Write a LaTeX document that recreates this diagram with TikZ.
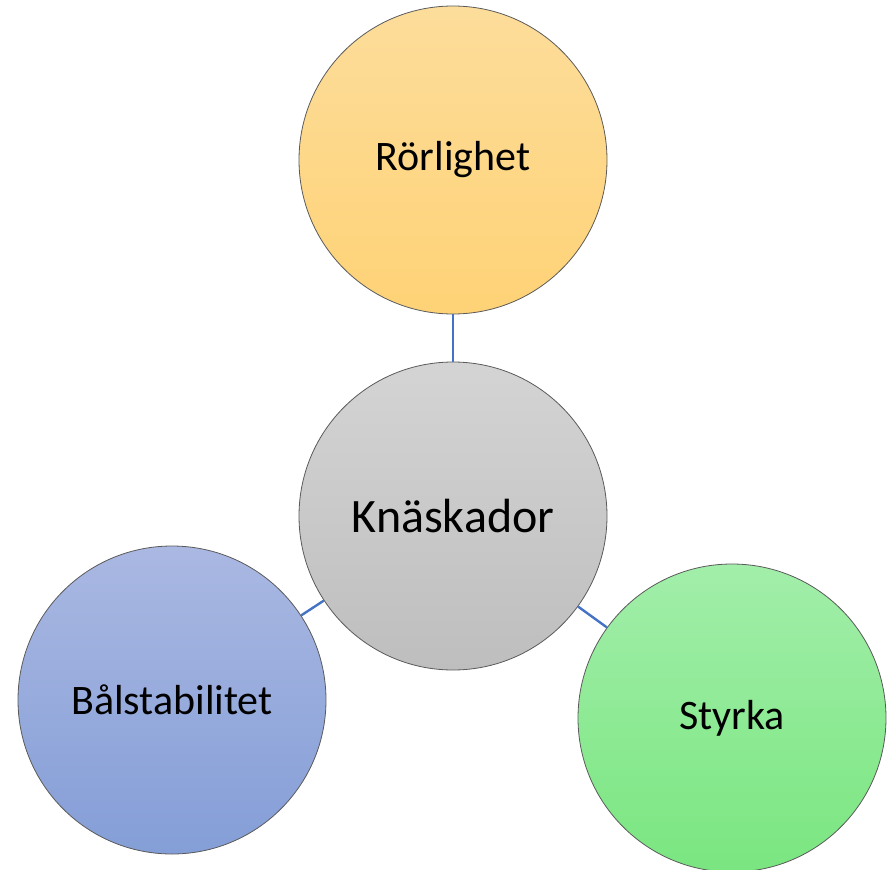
\documentclass[tikz,border=0pt]{standalone}
\usepackage{fontspec}
\setmainfont{Carlito}
\definecolor{edgeblue}{RGB}{68,114,196}
\definecolor{rimgray}{RGB}{90,90,90}
\definecolor{orTop}{RGB}{253,221,155}
\definecolor{orBot}{RGB}{254,210,118}
\definecolor{grTop}{RGB}{212,212,212}
\definecolor{grBot}{RGB}{190,190,190}
\definecolor{blTop}{RGB}{170,184,226}
\definecolor{blBot}{RGB}{132,158,215}
\definecolor{gnTop}{RGB}{162,238,170}
\definecolor{gnBot}{RGB}{122,230,128}
\tikzset{
  bubble/.style={circle, draw=rimgray, line width=0.8pt, minimum size=308pt, inner sep=0pt,
    font=\fontsize{42}{50}\selectfont},
  link/.style={draw=edgeblue, line width=2.4pt}
}
\begin{document}
\begin{tikzpicture}[x=1pt,y=-1pt]
\useasboundingbox (0,0) rectangle (889,870);
\node[bubble, top color=orTop, bottom color=orBot] (mob) at (453,160) {Rörlighet};
\node[bubble, top color=grTop, bottom color=grBot, font=\fontsize{48}{58}\selectfont] (knee) at (453,516) {Knäskador};
\node[bubble, top color=blTop, bottom color=blBot] (core) at (172,700) {Bålstabilitet};
\node[bubble, top color=gnTop, bottom color=gnBot] (str) at (732,718) {Styrka};
\draw[link] (mob) -- (knee);
\draw[link] (core) -- (knee);
\draw[link] (str) -- (knee);
\end{tikzpicture}
\end{document}
